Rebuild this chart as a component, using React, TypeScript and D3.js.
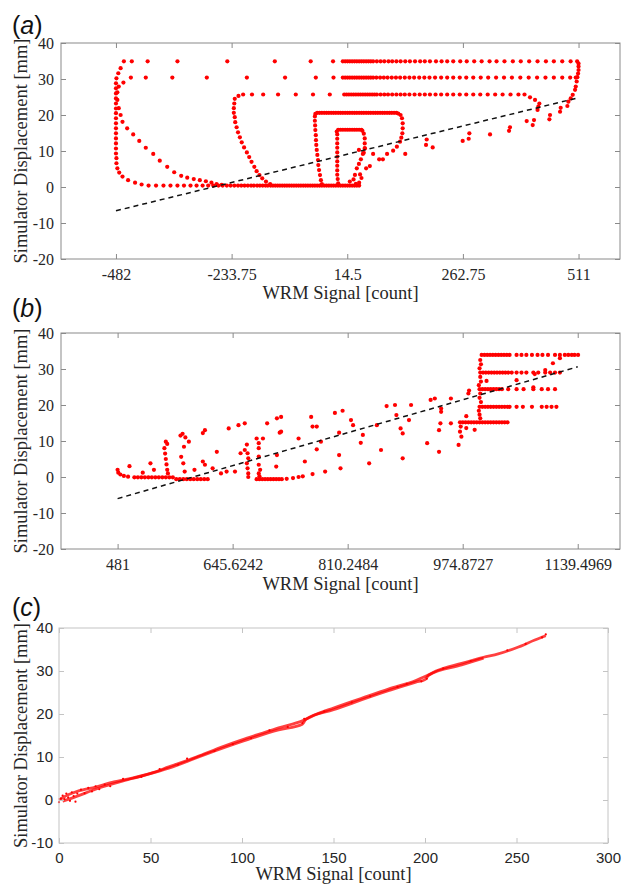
import React, { useEffect, useRef } from "react";
import * as d3 from "d3";

const W = 629;
const H = 885;
const serif = "'Liberation Serif', 'Times New Roman', serif";
const sans = "'Liberation Sans', Arial, Helvetica, sans-serif";

// ---------- panel (a) ----------
const aTicksX = [-482, -233.75, 14.5, 262.75, 511];
const aTicksY = [-20, -10, 0, 10, 20, 30, 40];
// horizontal runs of samples (x values, one y each)
const aRow35 = [-465, -448, -414, -350, -243, -141, -64, -16, 5, 10, 15, 20, 25, 30, 35, 40, 45, 50, 55, 60, 65, 70, 78, 86, 94, 103, 111, 120, 129, 139, 149, 160, 171, 181, 192, 205, 217, 229, 242, 257, 271, 287, 303, 320, 335, 352, 370, 387, 405, 423, 441, 458, 476, 494, 508];
const aRow30 = [-450, -418, -361, -287, -201, -119, -53, -15, 5, 10, 15, 20, 25, 30, 35, 40, 45, 50, 55, 60, 65, 70, 77, 85, 93, 101, 110, 119, 128, 138, 148, 158, 169, 180, 191, 203, 216, 229, 242, 256, 270, 285, 301, 317, 334, 351, 368, 386, 404, 422, 440, 458, 476, 493, 505];
const aRow26 = [-209, -190, -166, -134, -96, -59, -23, 8, 13, 18, 23, 28, 33, 38, 43, 48, 53, 58, 63, 68, 73, 78, 86, 94, 102, 111, 120, 129, 138, 148, 159, 170, 181, 192, 204, 216, 229, 242, 256, 270, 285, 300, 316, 332, 348, 365, 382, 395];
const aRow21 = [-50, -45, -40, -35, -30, -25, -20, -15, -10, -5, 0, 5, 10, 15, 20, 25, 30, 35, 40, 45, 50, 55, 60, 65, 70, 75, 80, 85, 90, 95, 100, 105, 110, 115, 120];
const aRow16 = [-5, 0, 5, 10, 15, 20, 25, 30, 35, 40, 45];
const aRow0 = [-412, -396, -380, -365, -350, -336, -322, -309, -296, -284, -273, -262, -253, -244, -236, -228, -220, -213, -206, -199, -192, -186, -179, -173, -167, -161, -156, -150, -145, -140, -135, -130, -125, -120, -115, -110, -105, -100, -95, -90, -85, -80, -75, -70, -65, -60, -55, -50, -45, -40, -35, -30, -25, -20, -15, -10, -5, 0, 5, 10, 15, 20, 25, 30, 35, 40];
// loop sides and loose samples
const aLoopOuter = [[-472, 33.0], [-477, 31.6], [-466, 29.0], [-481, 30.2], [-482, 28.8], [-482, 27.4], [-482, 26.0], [-482, 24.6], [-482, 23.2], [-482, 21.8], [-482, 20.5], [-482, 19.1], [-482, 17.7], [-482, 16.3], [-482, 14.9], [-482, 13.5], [-482, 12.1], [-482, 10.7], [-482, 9.3], [-481, 8.0], [-481, 6.6], [-479, 5.2], [-475, 4.0], [-468, 2.9], [-456, 1.9], [-441, 1.2], [-427, 0.7]];
const aLoopDiag = [[-476, 27.9], [-479, 26.3], [-479, 24.2], [-476, 21.9], [-472, 20.0], [-468, 18.1], [-458, 16.3], [-445, 14.6], [-432, 12.8], [-418, 10.9], [-402, 9.2], [-388, 7.3], [-372, 5.6], [-357, 4.1], [-342, 3.1], [-329, 2.6], [-315, 2.2], [-302, 1.9], [-289, 1.6], [-277, 1.2], [-266, 0.8], [-255, 0.6]];
const aLoop26 = [[-227, 24.5], [-219, 25.3], [-228, 23.2], [-229, 21.9], [-229, 20.6], [-227, 19.4], [-226, 18.0], [-223, 16.6], [-220, 15.2], [-216, 13.8], [-212, 12.4], [-207, 11.0], [-201, 9.6], [-196, 8.3], [-191, 7.0], [-185, 5.6], [-180, 4.4], [-174, 3.3], [-168, 2.4], [-160, 1.5], [-151, 0.8]];
const aLoop21 = [[-54, 20.3], [-55, 19.6], [-55, 18.4], [-54.5, 17.1], [-54, 15.8], [-53, 14.4], [-52.6, 13.0], [-52, 11.7], [-51, 10.3], [-49.7, 8.9], [-48.3, 7.5], [-47.6, 6.1], [-46, 4.7], [-44, 3.3], [-42, 1.9], [-40, 0.8], [124, 20.4], [129, 20.0], [132, 19.1], [133.5, 17.7], [133.5, 16.3], [132.8, 14.9], [130.6, 13.7], [127.8, 12.6]];
const aLoop16 = [[-8, 15.4], [47, 15.6], [50, 14.8], [52, 13.5], [52, 12.1], [52, 10.8], [50, 9.5], [-7, 14.6], [-7, 13.4], [-7, 12.1], [-7, 10.9], [-7, 9.6], [-7, 8.4], [-7, 7.1], [-7, 5.9], [-7, 4.6], [-7, 3.4], [-6, 2.2], [-5, 1.0]];
const aLoose = [[31, 3.35], [35, 5.2], [39.5, 6.4], [43.8, 7.7], [48, 9.2], [39.5, 10.3], [52.4, 10.7], [70, 9.2], [83, 7.7], [91, 7.7], [100, 9.2], [113, 10.1], [121, 11.2], [139, 9.2], [63, 5.8], [55, 5.2], [28, 2.1], [20, 1.5], [42, 3.5], [45, 2.5], [40, 1.2], [33, 0.9],
  [183.6, 11.7], [185, 13.2], [197.9, 11.0], [262.3, 12.8], [275.2, 13.4], [276.6, 14.9], [321, 14.6], [361.8, 15.6], [363.9, 16.6], [399.7, 18.3], [412.6, 17.2], [415.4, 18.6], [424.7, 22.3], [426.9, 23.2], [448.4, 18.8], [449.8, 20.0], [471.3, 20.9], [472.7, 22.0], [487, 22.5], [489.2, 23.7], [494.2, 24.6], [498.5, 25.6], [503.5, 27.0], [505, 27.9], [507, 29.3], [508.5, 30.5], [510, 31.5], [511, 32.5], [511, 33.5], [511, 34.3], [406.8, 24.9], [417.6, 24.2], [423, 21.4]];
const aFit = [[-482, -6.6], [511, 24.8]];

// ---------- panel (b) ----------
const bTicksX = [481, 645.6242, 810.2484, 974.8727, 1139.4969];
const bTicksY = [-20, -10, 0, 10, 20, 30, 40];
const bRow34 = [1002, 1006, 1010, 1014, 1018, 1022, 1026, 1030, 1034, 1038, 1042, 1052, 1059, 1066, 1074, 1082, 1089, 1097, 1107, 1114, 1121, 1126, 1131, 1135, 1140];
const bRow29 = [1000, 1004, 1008, 1012, 1016, 1020, 1024, 1028, 1032, 1036, 1040, 1045, 1052, 1059, 1066, 1076, 1083, 1093, 1100, 1107, 1114];
const bRow24 = [999, 1003, 1007, 1011, 1015, 1019, 1023, 1027, 1031, 1040, 1052, 1062, 1076, 1088, 1097, 1107];
const bRow20 = [999, 1003, 1007, 1011, 1015, 1019, 1023, 1027, 1031, 1035, 1039, 1042, 1052, 1061, 1074, 1088, 1095, 1102, 1109];
const bRow15 = [971, 975, 979, 983, 987, 991, 995, 999, 1003, 1007, 1011, 1015, 1019, 1023, 1027, 1031, 1035, 1039];
const bRow0a = [505, 510, 515, 520, 525, 530, 535, 540, 545, 550, 555, 560];
const bRow0b = [565, 570, 575, 580, 585, 590, 595, 600, 605, 610, 680, 684, 688, 692, 696, 700, 704, 708, 712, 716];
const bLoose = [[1000, 32.5], [1001, 31.3], [999, 30.2], [1000, 27.8], [1001, 26.5], [998, 25.5], [1000, 23.2], [999, 22.0], [1001, 20.8], [998, 18.4], [999, 17.3], [1000, 16.3],
  [481, 2.0], [482, 1.2], [485, 0.7], [490, 0.3], [496, 0.1], [498, 3.0], [517, 1.2], [528, 3.8], [533, 2.0],
  [548, 8.0], [549, 6.5], [550, 5.0], [551, 3.5], [552, 2.0], [553, 1.0], [550, 9.8], [552, 9.2],
  [571, 11.5], [574, 12.0], [576, 8.4], [572, 5.6], [575, 3.8], [577, 1.5], [578, 11.0],
  [583, 9.8], [591, 2.0], [603, 12.2], [606, 13.0], [603, 4.3], [606, 3.4],
  [617, 2.4], [623, 7.0], [629, 1.0], [637, 1.5], [640, 13.5], [649, 1.5], [654, 14.4], [657, 6.6], [663, 14.9], [663, 7.5], [666, 3.8],
  [666, 9.0], [667, 6.6], [668, 5.2], [667, 2.4], [668, 1.0], [668, 0],
  [680, 10.7], [683, 9.4], [683, 8.0], [683, 5.7], [683, 3.4], [685, 2.0], [689, 10.7], [683, 1.0], [684, 0.2],
  [723, -0.5], [732, -0.3], [740, 0], [746, 0.2], [760, 0.8], [778, 1.5],
  [695, 14.9], [709, 16.3], [715, 16.7], [715, 12.6], [713, 12.3], [709, 6.1], [708, 2.9],
  [740, 10.7], [749, 4.3], [758, 16.7], [760, 14.0], [766, 7.7], [766, 14.0], [772, 9.8],
  [792, 17.8], [798, 6.1], [803, 18.4], [798, 12.3], [800, 2.4],
  [815, 15.8], [818, 14.4], [832, 11.7], [829, 9.5], [841, 3.8],
  [852, 14.4], [858, 7.5], [866, 19.7], [878, 20.0], [880, 17.2], [889, 12.1], [889, 5.2], [886, 13.5], [898, 15.8], [901, 20.0],
  [924, 9.4], [929, 21.4], [935, 21.8], [941, 7.0], [941, 13.0], [943, 14.9], [944, 18.1], [944, 19.0], [958, 21.8], [958, 14.9],
  [972, 14.0], [971, 12.6], [973, 11.2], [969, 8.9], [980, 16.9], [980, 13.6], [983, 23.2], [984, 24.0], [992, 13.1],
  [1009, 26.7], [1052, 26.9], [1104, 31.6], [1114, 33.0], [1093, 29.7], [1078, 28.6], [1076, 24.9]];
const bFit = [[481, -6.0], [1139.5, 30.6]];

// ---------- panel (c) ----------
const cTicksX = [0, 50, 100, 150, 200, 250, 300];
const cTicksY = [-10, 0, 10, 20, 30, 40];
const cLoading = [[0, 0], [5, 1.2], [10, 2.0], [20, 3.0], [30, 4.2], [40, 5.1], [50, 6.2], [60, 7.7], [75, 10.0], [90, 12.5], [100, 14.0], [110, 15.4], [120, 16.8], [133, 18.4], [141, 20.0], [150, 21.4], [165, 23.6], [180, 25.8], [195, 27.8], [200, 28.7], [206, 30.0], [220, 31.8], [232, 33.2], [240, 34.0], [250, 35.4], [260, 37.2], [266, 38.2]];
const cUnloading = [[2, -0.3], [10, 0.9], [20, 2.5], [40, 5.0], [60, 7.4], [80, 10.6], [100, 13.6], [120, 16.3], [133, 17.6], [135, 18.8], [150, 21.0], [180, 25.4], [195, 27.4], [200, 28.0], [202, 29.0], [220, 31.4], [232, 33.0]];
const cLoose = [[0, -0.5], [1, 0.3], [2, 1.0], [3, 0.2], [4, 1.5], [5, 0.6], [6, -0.2], [7, 1.8], [8, 0.9], [9, -0.4], [10, 1.5], [12, 2.4], [14, 1.6], [16, 2.8], [18, 2.0], [20, 3.2], [22, 2.5], [25, 3.6], [28, 3.2],
  [35, 4.9], [45, 5.4], [55, 7.2], [65, 8.2], [70, 9.6], [85, 11.4], [95, 13.0], [105, 14.4], [115, 16.2], [125, 17.0], [133, 17.9], [134, 18.9],
  [145, 20.6], [160, 22.7], [170, 24.1], [185, 26.3], [190, 27.0], [198, 27.6], [201, 28.2], [210, 30.6], [225, 32.3], [245, 34.8], [255, 36.3], [264, 37.8], [266, 38.5]];

const row = (xs, y) => xs.map(x => [x, y]);

const panels = [
  {
    label: "a", box: { l: 61, r: 620, t: 43, b: 259 }, labelY: 34, titleY: 299,
    xDomain: [-600, 600], yDomain: [-20, 40], xTicks: aTicksX, yTicks: aTicksY,
    tickFont: serif, tickSize: 16, padX: 10, padY: 7, frame: "#8a8a8a", r: 2.1,
    points: [].concat(row(aRow35, 34.9), row(aRow30, 30.4), row(aRow26, 25.7), row(aRow21, 20.6), row(aRow16, 15.9), row(aRow0, 0.4),
      aLoopOuter, aLoopDiag, aLoop26, aLoop21, aLoop16, aLoose),
    fit: aFit,
  },
  {
    label: "b", box: { l: 61, r: 620, t: 333, b: 549 }, labelY: 317, titleY: 590,
    xDomain: [400, 1200], yDomain: [-20, 40], xTicks: bTicksX, yTicks: bTicksY,
    tickFont: serif, tickSize: 16, padX: 10, padY: 7, frame: "#8a8a8a", r: 2.1,
    points: [].concat(row(bRow34, 33.9), row(bRow29, 29.0), row(bRow24, 24.4), row(bRow20, 19.5), row(bRow15, 15.2),
      row(bRow0a, -0.1), row(bRow0b, -0.6), bLoose),
    fit: bFit,
  },
  {
    label: "c", box: { l: 59, r: 608, t: 628, b: 843 }, labelY: 616, titleY: 880,
    xDomain: [0, 300], yDomain: [-10, 40], xTicks: cTicksX, yTicks: cTicksY,
    tickFont: sans, tickSize: 15, padX: 9, padY: 6, frame: "#c4c4c4", r: 1.1,
    points: cLoose, traces: [cLoading, cUnloading],
  },
];

function drawPanel(svg, p) {
  const x = d3.scaleLinear().domain(p.xDomain).range([p.box.l, p.box.r]);
  const y = d3.scaleLinear().domain(p.yDomain).range([p.box.b, p.box.t]);
  const g = svg.append("g");

  // band traces (panel c)
  if (p.traces) {
    const line = d3.line().x(d => x(d[0])).y(d => y(d[1])).curve(d3.curveMonotoneX);
    g.selectAll("path.trace").data(p.traces).join("path")
      .attr("class", "trace")
      .attr("d", line)
      .attr("fill", "none")
      .attr("stroke", "#f00")
      .attr("stroke-width", 2.8)
      .attr("stroke-opacity", 0.75);
  }

  g.selectAll("circle").data(p.points).join("circle")
    .attr("cx", d => x(d[0]))
    .attr("cy", d => y(d[1]))
    .attr("r", p.r)
    .attr("fill", "#ff0000");

  if (p.fit) {
    g.append("path")
      .attr("d", d3.line().x(d => x(d[0])).y(d => y(d[1]))(p.fit))
      .attr("fill", "none")
      .attr("stroke", "#111")
      .attr("stroke-width", 1.5)
      .attr("stroke-dasharray", "5,4");
  }

  // frame
  g.append("rect")
    .attr("x", p.box.l).attr("y", p.box.t)
    .attr("width", p.box.r - p.box.l).attr("height", p.box.b - p.box.t)
    .attr("fill", "none").attr("stroke", p.frame).attr("stroke-width", 1);

  const fmt = d => String(d);
  const style = (sel, labels) => {
    sel.select(".domain").remove();
    sel.attr("color", p.frame).attr("font-family", p.tickFont).attr("font-size", p.tickSize);
    sel.selectAll("text").attr("fill", labels ? "#262626" : "none");
  };

  g.append("g").attr("transform", `translate(0,${p.box.b})`)
    .call(d3.axisBottom(x).tickValues(p.xTicks).tickSizeInner(-5).tickSizeOuter(0).tickPadding(p.padX).tickFormat(fmt))
    .call(s => style(s, true));
  g.append("g").attr("transform", `translate(0,${p.box.t})`)
    .call(d3.axisTop(x).tickValues(p.xTicks).tickSizeInner(-5).tickSizeOuter(0).tickFormat(() => ""))
    .call(s => style(s, false));
  g.append("g").attr("transform", `translate(${p.box.l},0)`)
    .call(d3.axisLeft(y).tickValues(p.yTicks).tickSizeInner(-5).tickSizeOuter(0).tickPadding(p.padY).tickFormat(fmt))
    .call(s => style(s, true));
  g.append("g").attr("transform", `translate(${p.box.r},0)`)
    .call(d3.axisRight(y).tickValues(p.yTicks).tickSizeInner(-5).tickSizeOuter(0).tickFormat(() => ""))
    .call(s => style(s, false));

  // axis titles
  g.append("text")
    .attr("x", (p.box.l + p.box.r) / 2)
    .attr("y", p.titleY)
    .attr("text-anchor", "middle")
    .attr("font-family", serif)
    .attr("font-size", 18.5)
    .attr("fill", "#262626")
    .text("WRM Signal [count]");
  g.append("text")
    .attr("transform", `translate(21,${(p.box.t + p.box.b) / 2}) rotate(-90)`)
    .attr("dy", "0.35em")
    .attr("text-anchor", "middle")
    .attr("font-family", serif)
    .attr("font-size", 18.5)
    .attr("fill", "#262626")
    .text("Simulator Displacement [mm]");

  // panel letter
  const lab = g.append("text")
    .attr("x", 12).attr("y", p.labelY)
    .attr("font-family", sans).attr("font-size", 25).attr("fill", "#111");
  lab.append("tspan").text("(");
  lab.append("tspan").attr("font-style", "italic").text(p.label);
  lab.append("tspan").text(")");
}

export default function App() {
  const svgNode = useRef(null);

  useEffect(() => {
    const svg = d3.select(svgNode.current);
    svg.selectAll("*").remove();
    panels.forEach(p => drawPanel(svg, p));
  }, []);

  return (
    <svg ref={svgNode} width={W} height={H} viewBox={`0 0 ${W} ${H}`}
      style={{ position: "absolute", left: 0, top: 0, background: "#fff", display: "block" }} />
  );
}
